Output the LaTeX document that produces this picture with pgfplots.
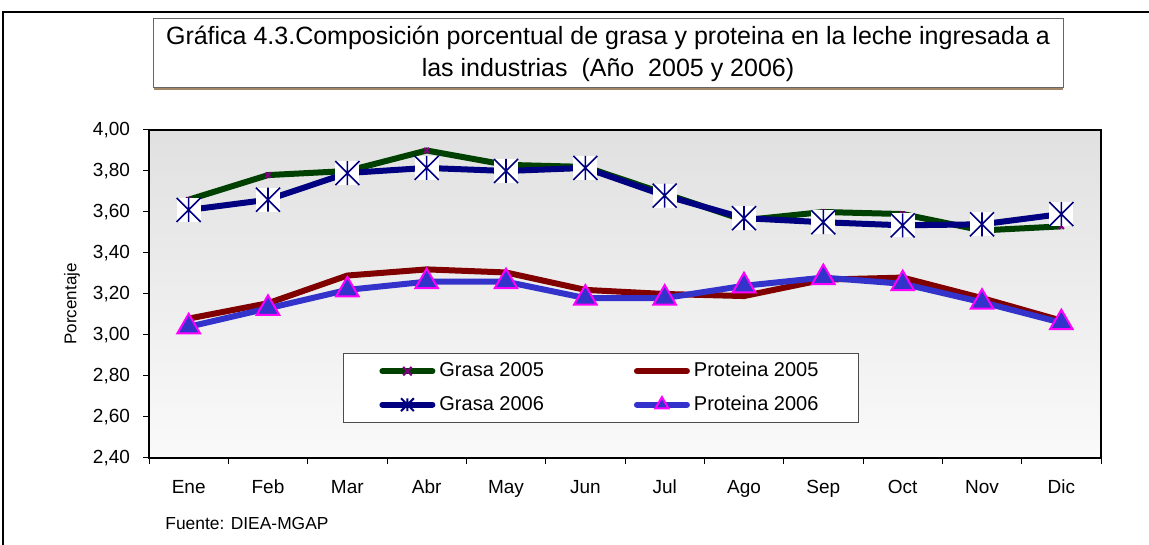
\documentclass[border=0pt]{standalone}
\usepackage{fontspec}
\setmainfont{Liberation Sans}
\usepackage{pgfplots}
\pgfplotsset{compat=1.18}
\definecolor{grasaA}{RGB}{0,64,0}
\definecolor{protA}{RGB}{128,0,0}
\definecolor{grasaB}{RGB}{0,0,128}
\definecolor{protB}{RGB}{51,51,204}
\definecolor{mag}{RGB}{255,0,255}
\definecolor{purp}{RGB}{128,0,128}
\definecolor{shadowc}{RGB}{165,135,105}
\pgfdeclareplotmark{boxstar}{%
  \pgfpathrectangle{\pgfqpoint{-\pgfplotmarksize}{-\pgfplotmarksize}}{\pgfqpoint{2\pgfplotmarksize}{2\pgfplotmarksize}}%
  \pgfsetfillcolor{white}\pgfusepathqfill
  \pgfpathmoveto{\pgfqpoint{-\pgfplotmarksize}{-\pgfplotmarksize}}\pgfpathlineto{\pgfqpoint{\pgfplotmarksize}{\pgfplotmarksize}}%
  \pgfpathmoveto{\pgfqpoint{-\pgfplotmarksize}{\pgfplotmarksize}}\pgfpathlineto{\pgfqpoint{\pgfplotmarksize}{-\pgfplotmarksize}}%
  \pgfpathmoveto{\pgfqpoint{0pt}{-\pgfplotmarksize}}\pgfpathlineto{\pgfqpoint{0pt}{\pgfplotmarksize}}%
  \pgfusepathqstroke}
\pgfdeclareplotmark{star6}{%
  \pgfpathmoveto{\pgfqpoint{-\pgfplotmarksize}{-\pgfplotmarksize}}\pgfpathlineto{\pgfqpoint{\pgfplotmarksize}{\pgfplotmarksize}}%
  \pgfpathmoveto{\pgfqpoint{-\pgfplotmarksize}{\pgfplotmarksize}}\pgfpathlineto{\pgfqpoint{\pgfplotmarksize}{-\pgfplotmarksize}}%
  \pgfpathmoveto{\pgfqpoint{0pt}{-\pgfplotmarksize}}\pgfpathlineto{\pgfqpoint{0pt}{\pgfplotmarksize}}%
  \pgfusepathqstroke}
\pgfplotstableread{
x G05 P05 G06 P06
1 3.66 3.08 3.61 3.04
2 3.78 3.155 3.66 3.13
3 3.80 3.29 3.79 3.22
4 3.90 3.32 3.815 3.26
5 3.83 3.305 3.80 3.26
6 3.82 3.22 3.815 3.18
7 3.69 3.20 3.68 3.18
8 3.56 3.19 3.57 3.24
9 3.60 3.27 3.55 3.28
10 3.59 3.28 3.535 3.25
11 3.51 3.18 3.54 3.16
12 3.53 3.07 3.59 3.06
}\datatable
\begin{document}
\begin{tikzpicture}
\useasboundingbox (0pt,0pt) rectangle (574.5pt,272.5pt);
\draw[line width=1pt] (1.5pt,0pt) -- (1.5pt,266.5pt) -- (574.5pt,266.5pt);
\draw[line width=1.2pt, shadowc] (77pt,228pt) -- (531.5pt,228pt);
\draw[black!60, line width=0.4pt, fill=white] (76.5pt,228.6pt) rectangle (531.5pt,263.5pt);
\node[align=center, inner sep=0, font=\fontsize{12.5}{16}\selectfont] at (304pt,245.5pt) {Gráfica 4.3.Composición porcentual de grasa y proteina en la leche ingresada a\\las industrias\ \ (Año\ \ 2005 y 2006)};
\node[anchor=west, inner sep=0, font=\fontsize{8.7}{10}\selectfont] at (82.5pt,10.5pt) {Fuente: DIEA-MGAP};
\begin{axis}[at={(74.5pt,43.5pt)}, anchor=south west, scale only axis, width=476pt, height=164pt,
  xmin=0.5, xmax=12.5, ymin=2.4, ymax=4.0,
  xtick={0.5,1.5,...,12.5}, x tick label as interval,
  xticklabels={Ene,Feb,Mar,Abr,May,Jun,Jul,Ago,Sep,Oct,Nov,Dic},
  ytick={2.4,2.6,2.8,3.0,3.2,3.4,3.6,3.8,4.0},
  xtick pos=lower, ytick pos=left,
  tick align=outside, major tick length=3pt,
  tick style={black, line width=0.5pt},
  axis line style={line width=1pt},
  /pgf/number format/assume math mode=true,
  yticklabel style={xshift=-3pt, /pgf/number format/.cd, fixed, fixed zerofill, precision=2, use comma},
  ticklabel style={font=\fontsize{9.5}{11}\selectfont},
  xticklabel style={yshift=-4.5pt},
  ylabel={Porcentaje},
  ylabel style={at={(axis description cs:-0.081,0.47)}, anchor=center, font=\fontsize{8.5}{10}\selectfont},
  axis background/.style={top color=black!12, bottom color=black!2},
  legend columns=2,
  legend cell align=left,
  legend image code/.code={\draw[line cap=round] (3pt,0pt) -- (28pt,0pt); \draw[mark size=3pt] plot coordinates {(15.5pt,0pt)};},
  legend style={at={(axis description cs:0.2038,0.320)}, anchor=north west, draw=black!70, fill=white,
    font=\fontsize{10}{12}\selectfont, inner xsep=18pt, inner ysep=2.5pt,
    /tikz/every even column/.append style={column sep=43pt}, row sep=4pt},
]
\addplot[grasaA, line width=3pt, mark=x, mark size=1.8pt, mark options={purp, line width=1pt}] table[x=x, y=G05] {\datatable};
\addlegendentry{Grasa 2005}
\addplot[protA, line width=3pt] table[x=x, y=P05] {\datatable};
\addlegendentry{Proteina 2005}
\addplot[grasaB, line width=3pt, mark=boxstar, mark size=6pt, mark options={grasaB, line width=0.8pt},
  legend image code/.code={\draw[line cap=round] (3pt,0pt) -- (28pt,0pt); \draw[mark=star6, mark size=3.2pt, mark options={line width=1pt}] plot coordinates {(15.5pt,0pt)};}] table[x=x, y=G06] {\datatable};
\addlegendentry{Grasa 2006}
\addplot[protB, line width=3pt, mark=triangle*, mark size=6.5pt, mark options={fill=protB, draw=mag, line width=1pt},
  legend image code/.code={\draw[line cap=round] (3pt,0pt) -- (28pt,0pt); \draw[mark size=3.8pt] plot coordinates {(15.5pt,0pt)};}] table[x=x, y=P06] {\datatable};
\addlegendentry{Proteina 2006}
\end{axis}
\end{tikzpicture}
\end{document}
